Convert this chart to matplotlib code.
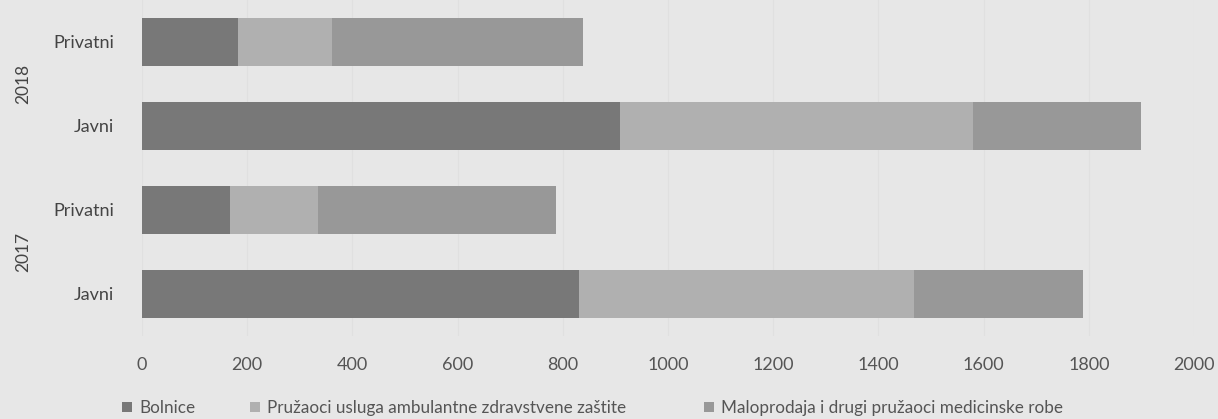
import matplotlib
matplotlib.use("Agg")
import matplotlib.pyplot as plt
import numpy as np

plt.rcParams['font.family'] = ['Lato', 'DejaVu Sans']

# rows from bottom to top
labels = ['Javni', 'Privatni', 'Javni', 'Privatni']
years = ['2017', '2018']
bolnice = [831, 167, 909, 182]
ambulantne = [637, 168, 671, 179]
maloprodaja = [321, 452, 319, 477]
series = ['Bolnice', 'Pružaoci usluga ambulantne zdravstvene zaštite',
          'Maloprodaja i drugi pružaoci medicinske robe']
colors = ['#787878', '#b0b0b0', '#989898']

bg = '#e7e7e7'
fs = 13
fig = plt.figure(figsize=(12.18, 4.19), dpi=100, facecolor=bg)
ax = fig.add_axes([142/1218, 1-336/419, (1194-142)/1218, 336/419], facecolor=bg)

y = np.arange(len(labels))
left = np.zeros(len(labels))
bars = []
for vals, name, c in zip([bolnice, ambulantne, maloprodaja], series, colors):
    bars.append(ax.barh(y, vals, left=left, height=0.57, color=c, label=name))
    left += np.array(vals)

ax.set_xlim(0, 2000)
ax.set_ylim(-0.5, 3.5)
ax.set_xticks(np.arange(0, 2001, 200))
ax.tick_params(axis='x', length=0, pad=15, labelsize=fs, labelcolor='#555555')
ax.set_yticks(y)
ax.set_yticklabels(labels)
ax.tick_params(axis='y', length=0, pad=20, labelsize=fs, labelcolor='#444444')
ax.grid(axis='x', color='#e0e0e0', lw=0.8)
ax.set_axisbelow(True)
for s in ax.spines.values():
    s.set_visible(False)

# year group labels
for i, yr in enumerate(years):
    ax.text(-0.113, (2*i + 1)/4, yr, transform=ax.transAxes, rotation=90,
            ha='center', va='center', fontsize=fs - 0.5, color='#444444')

# legend entries placed one by one
for b, name, xpos in zip(bars, series, [122, 250, 704]):
    fig.legend([b], [name], loc='center left', bbox_to_anchor=(xpos/1218, 1-408/419),
               frameon=False, fontsize=12.3, handlelength=0.6, handleheight=0.6,
               handletextpad=0.4, borderaxespad=0, borderpad=0, labelcolor='#555555')

fig.savefig('out.png', dpi=100, facecolor=bg)
